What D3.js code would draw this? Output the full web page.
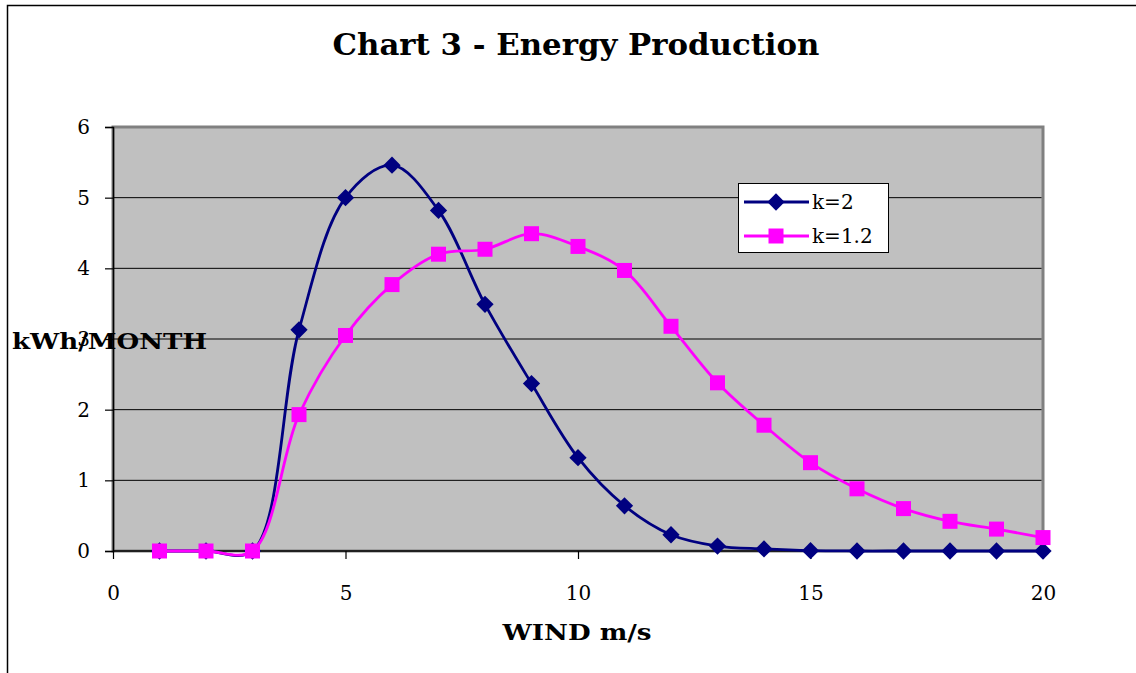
<!DOCTYPE html>
<html>
<head>
<meta charset="utf-8">
<script src="https://cdn.jsdelivr.net/npm/d3@7"></script>
<style>
  body { margin: 0; background: #fff; }
  svg { display: block; font-family: "DejaVu Serif", serif; }
</style>
</head>
<body>
<svg width="1136" height="673"></svg>
<script>
// wind speed (m/s) and monthly energy for two Weibull shape factors
const wind = [1, 2, 3, 4, 5, 6, 7, 8, 9, 10, 11, 12, 13, 14, 15, 16, 17, 18, 19, 20];
const k2 = [0, 0, 0, 3.13, 5.0, 5.46, 4.82, 3.49, 2.37, 1.32, 0.64, 0.23, 0.07, 0.03, 0.005, 0, 0, 0, 0, 0];
const k12 = [0, 0, 0, 1.93, 3.05, 3.77, 4.2, 4.27, 4.49, 4.31, 3.97, 3.18, 2.38, 1.78, 1.25, 0.88, 0.6, 0.42, 0.31, 0.19];
const xTicks = [0, 5, 10, 15, 20];
const yTicks = [0, 1, 2, 3, 4, 5, 6];

const svg = d3.select('svg');
const plot = {left: 113, top: 127, right: 1043, bottom: 551};

// outer chart frame (runs off the right/bottom edge)
svg.append('rect')
  .attr('x', 7.5).attr('y', 5.5)
  .attr('width', 1200).attr('height', 800)
  .attr('fill', 'none').attr('stroke', '#000').attr('stroke-width', 1.5);

const scX = d3.scaleLinear().domain([0, 20]).range([plot.left, plot.right]);
const scY = d3.scaleLinear().domain([0, 6]).range([plot.bottom, plot.top]);

svg.append('rect')
  .attr('x', plot.left).attr('y', plot.top)
  .attr('width', plot.right - plot.left).attr('height', plot.bottom - plot.top)
  .attr('fill', '#c0c0c0').attr('stroke', '#808080').attr('stroke-width', 3);

// gridlines
svg.append('g').selectAll('line').data(yTicks.filter(d => d > 0 && d < 6)).enter()
  .append('line')
  .attr('x1', plot.left).attr('x2', plot.right - 1.5)
  .attr('y1', d => scY(d)).attr('y2', d => scY(d))
  .attr('stroke', '#000').attr('stroke-width', 1);

// axes
const yAx = svg.append('g')
  .attr('transform', 'translate(' + plot.left + ',0)')
  .call(d3.axisLeft(scY).tickValues(yTicks).tickFormat(d3.format('d'))
    .tickSize(8).tickPadding(15));
const xAx = svg.append('g')
  .attr('transform', 'translate(0,' + plot.bottom + ')')
  .call(d3.axisBottom(scX).tickValues(xTicks).tickFormat(d3.format('d'))
    .tickSize(8).tickPadding(27));
[yAx, xAx].forEach(ax => {
  ax.select('.domain').attr('stroke', '#000').attr('stroke-width', 1.5);
  ax.selectAll('.tick line').attr('stroke', '#000').attr('stroke-width', 1.2);
  ax.selectAll('text').attr('font-size', 20).attr('fill', '#000')
    .attr('font-family', '"DejaVu Serif", serif');
});
xAx.select('.domain').attr('d', 'M' + plot.left + ',0H' + plot.right);

const lnMkr = d3.line().curve(d3.curveCatmullRom.alpha(0.5))
  .x((d, i) => scX(wind[i])).y(d => scY(d));

const drawSeries = (vals, color, marker) => {
  const g = svg.append('g');
  g.append('path').attr('fill', 'none')
    .attr('stroke', color).attr('stroke-width', 2.8)
    .attr('d', lnMkr(vals));
  g.selectAll('path.m').data(vals).enter()
    .append('path').attr('class', 'm')
    .attr('transform', (d, i) => 'translate(' + scX(wind[i]) + ',' + scY(d) + ')')
    .attr('d', marker)
    .attr('fill', color);
};

const diamond = d3.symbol().type(d3.symbolDiamond2).size(190)();
const square = 'M-7.5,-7.5H7.5V7.5H-7.5Z';

drawSeries(k2, '#000080', diamond);
drawSeries(k12, '#ff00ff', square);

// legend
const lg = svg.append('g').attr('transform', 'translate(738,183)');
lg.append('rect').attr('x', 0.5).attr('y', 0.5).attr('width', 150).attr('height', 69)
  .attr('fill', '#fff').attr('stroke', '#000').attr('stroke-width', 1);
const legendItems = [
  {label: 'k=2', color: '#000080', marker: diamond},
  {label: 'k=1.2', color: '#ff00ff', marker: square}
];
legendItems.forEach((it, i) => {
  const cy = 19 + i * 34;
  lg.append('line').attr('x1', 6).attr('x2', 71).attr('y1', cy).attr('y2', cy)
    .attr('stroke', it.color).attr('stroke-width', 2.8);
  lg.append('path').attr('d', it.marker).attr('fill', it.color)
    .attr('transform', 'translate(38,' + cy + ')');
  lg.append('text').attr('x', 74).attr('y', cy + 7)
    .attr('font-size', 20).text(it.label);
});

// titles
svg.append('text').attr('x', 576).attr('y', 55).attr('text-anchor', 'middle')
  .attr('font-size', 30).attr('font-weight', 'bold')
  .attr('textLength', 487).attr('lengthAdjust', 'spacingAndGlyphs')
  .text('Chart 3 - Energy Production');
svg.append('text').attr('x', 12).attr('y', 349)
  .attr('font-size', 22).attr('font-weight', 'bold')
  .attr('textLength', 195).attr('lengthAdjust', 'spacingAndGlyphs')
  .text('kWh/MONTH');
svg.append('text').attr('x', 577).attr('y', 640).attr('text-anchor', 'middle')
  .attr('font-size', 22).attr('font-weight', 'bold')
  .attr('textLength', 149).attr('lengthAdjust', 'spacingAndGlyphs')
  .text('WIND m/s');
</script>
</body>
</html>
